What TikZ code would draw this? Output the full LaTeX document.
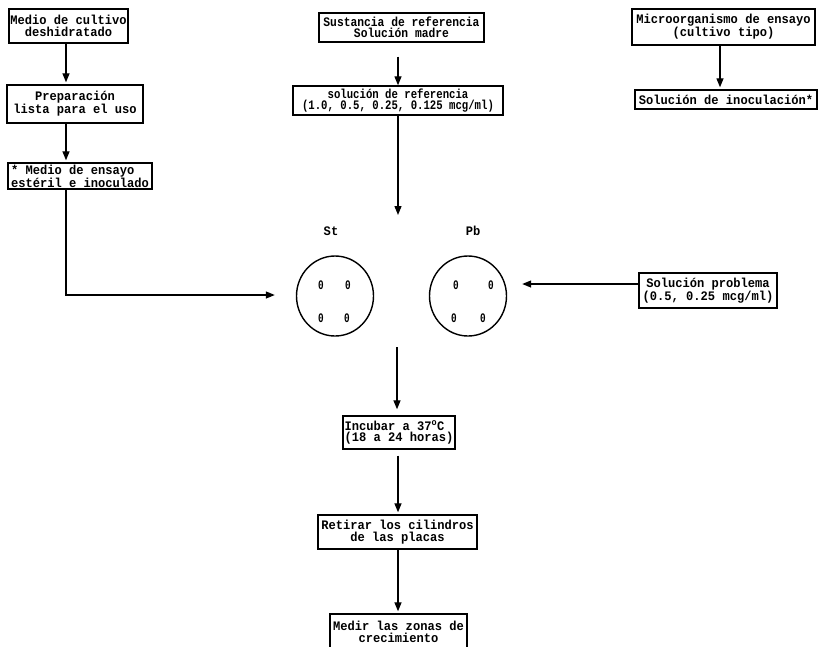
\documentclass[tikz,border=0pt]{standalone}
\usepackage{fontspec}
\newfontfamily\monoN{Liberation Mono}[FakeStretch=0.93]
\newfontfamily\monoD{Liberation Mono}[FakeStretch=0.87]
\newfontfamily\monoE{Liberation Mono}[FakeStretch=0.82]
\newfontfamily\monoK{Liberation Mono}[FakeStretch=0.72]
\usetikzlibrary{arrows.meta,shapes.geometric}
\newcommand{\fsz}{\bfseries\fontsize{13}{11.5}\selectfont}
\tikzset{
  box/.style={draw, line width=1.4pt, inner sep=0pt, align=center, font=\monoN\fsz},
  arr/.style={line width=1.3pt, -{Triangle[length=9pt,width=7pt]}},
  plate/.style={ellipse, draw, line width=1.4pt, minimum width=77pt, minimum height=80pt, inner sep=0pt},
  hole/.style={font=\monoK\bfseries\fontsize{13}{13}\selectfont, inner sep=0pt},
  lbl/.style={font=\monoN\bfseries\fontsize{13}{13}\selectfont, inner sep=0pt}
}
\begin{document}
\begin{tikzpicture}[x=1pt,y=-1pt]
\useasboundingbox (0,0) rectangle (819,646);
% boxes
\node[box, minimum width=119pt, minimum height=34pt] (A) at (68.5,26) {Medio de cultivo\\deshidratado};
\node[box, minimum width=136pt, minimum height=38pt] (B) at (75,104) {Preparación\\lista para el uso};
\node[box, minimum width=144pt, minimum height=26pt, align=left] (C) at (80,176) {* Medio de ensayo\\estéril e inoculado};
\node[box, minimum width=165pt, minimum height=29pt, font=\monoD\fsz] (D) at (401.5,27.5) {Sustancia de referencia\\Solución madre};
\node[box, minimum width=210pt, minimum height=29pt, font=\monoE\fsz] (E) at (398,100.5) {solución de referencia\\(1.0, 0.5, 0.25, 0.125 mcg/ml)};
\node[box, minimum width=183pt, minimum height=36pt] (F) at (723.5,27) {Microorganismo de ensayo\\(cultivo tipo)};
\node[box, minimum width=182pt, minimum height=19pt] (G) at (726,99.5) {Solución de inoculación*};
\node[box, minimum width=138pt, minimum height=35pt] (H) at (708,290.5) {Solución problema\\(0.5, 0.25 mcg/ml)};
\node[box, minimum width=112pt, minimum height=33pt, align=left] (I) at (399,432.5) {Incubar a 37\textsuperscript{o}C\\(18 a 24 horas)};
\node[box, minimum width=159pt, minimum height=34pt] (J) at (397.5,532) {Retirar los cilindros\\de las placas};
\node[box, minimum width=137pt, minimum height=36pt] (K) at (398.5,632) {Medir las zonas de\\crecimiento};
% plates
\node[plate] (St) at (335,296) {};
\node[plate] (Pb) at (468,296) {};
\node[lbl] (stl) at (331,231) {St};
\node[lbl] (pbl) at (473,231) {Pb};
\node[hole] (s1) at (321,285) {0};
\node[hole] (s2) at (348,285) {0};
\node[hole] (s3) at (321,318) {0};
\node[hole] (s4) at (347,318) {0};
\node[hole] (p1) at (456,285) {0};
\node[hole] (p2) at (491,285) {0};
\node[hole] (p3) at (454,318) {0};
\node[hole] (p4) at (483,318) {0};
% helper coordinates
\coordinate (xl) at (66,0);
\coordinate (xf) at (720,0);
\coordinate (xm) at (398,0);
\coordinate (yl) at (0,295);
\coordinate (yh) at (0,284);
\coordinate (etip) at (398,215);
\coordinate (cstart) at (397,347);
% connectors
\draw[arr, shorten >=2pt] (xl |- A.south) -- (xl |- B.north);
\draw[arr, shorten >=2pt] (xl |- B.south) -- (xl |- C.north);
\draw[arr, shorten <=14pt] (xm |- D.south) -- (xm |- E.north);
\draw[arr] (E.south) -- (etip);
\draw[arr, shorten >=2pt] (xf |- F.south) -- (xf |- G.north);
\draw[arr, shorten >=21pt] (xl |- C.south) -- (xl |- yl) -- (St.west |- yl);
\draw[arr, shorten >=15pt] (H.west |- yh) -- (Pb.east |- yh);
\draw[arr, shorten >=6pt] (cstart) -- (cstart |- I.north);
\draw[arr, shorten <=6pt, shorten >=2pt] (xm |- I.south) -- (xm |- J.north);
\draw[arr, shorten >=2pt] (xm |- J.south) -- (xm |- K.north);
\end{tikzpicture}
\end{document}
